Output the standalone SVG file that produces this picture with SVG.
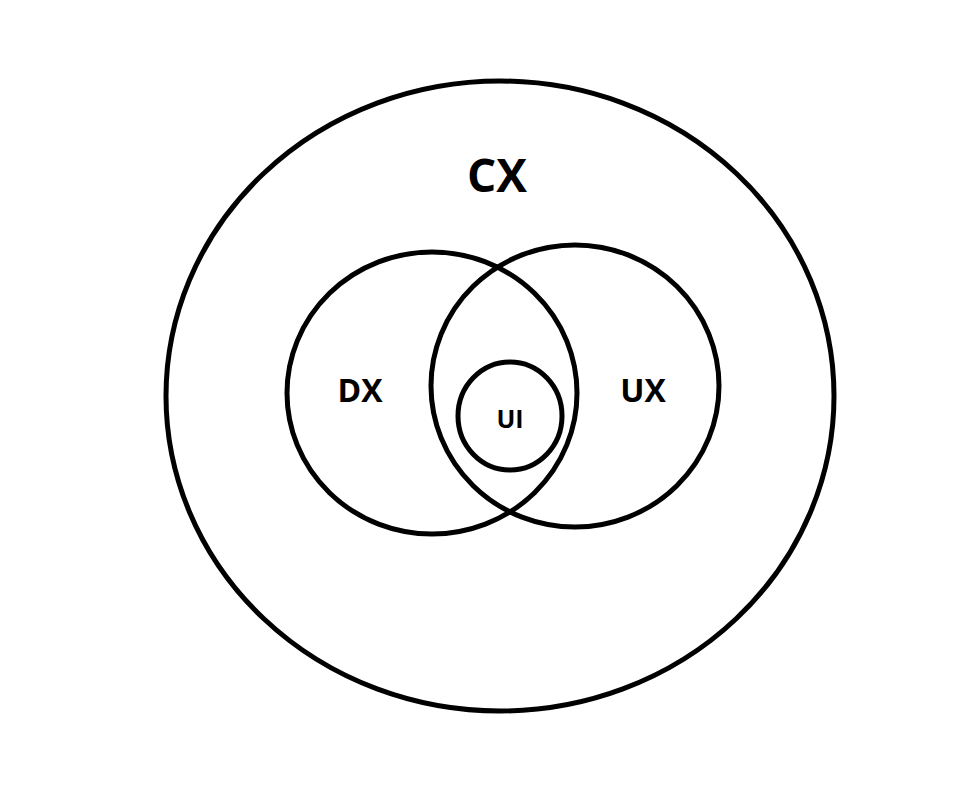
<svg xmlns="http://www.w3.org/2000/svg" width="968" height="786" viewBox="0 0 968 786">
<style>
.c{fill:none;stroke:#000;stroke-width:5}
text{font-family:"Open Sans","Liberation Sans",sans-serif;font-weight:bold;text-anchor:middle;fill:#000}
</style>
<rect width="968" height="786" fill="#fff"/>
<g id="cx"><ellipse class="c" cx="500" cy="396" rx="334" ry="315"/><text x="497" y="192" font-size="46">CX</text></g>
<g id="dx"><ellipse class="c" cx="432" cy="393" rx="145" ry="141"/><text x="360" y="402" font-size="32">DX</text></g>
<g id="ux"><ellipse class="c" cx="575" cy="386" rx="144" ry="141"/><text x="643" y="402" font-size="32">UX</text></g>
<g id="ui"><ellipse class="c" cx="510" cy="416" rx="52" ry="54"/><text x="510" y="428" font-size="25">UI</text></g>
<g id="connectors"/>
</svg>
